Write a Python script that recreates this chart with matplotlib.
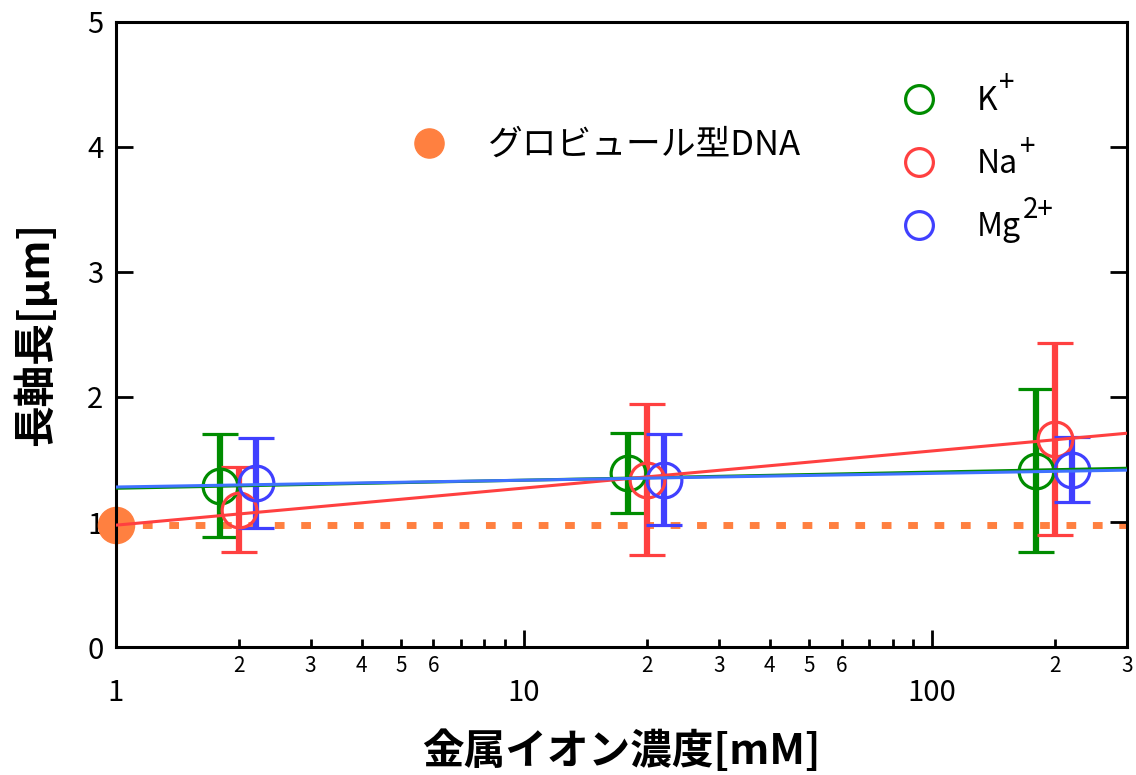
import numpy as np
import matplotlib
matplotlib.use('Agg')
import matplotlib.pyplot as plt
from matplotlib.ticker import FixedLocator, FuncFormatter
from matplotlib.lines import Line2D

plt.rcParams['font.family'] = ['Noto Sans CJK JP', 'DejaVu Sans']

# metal ion concentration [mM] for each ion (slightly offset around 2, 20, 200)
k_conc = [1.8, 18, 180]
na_conc = [2.0, 20, 200]
mg_conc = [2.2, 22, 220]

# long axis length [um] and error
k_len = [1.29, 1.39, 1.41]
k_err = [0.41, 0.32, 0.65]
na_len = [1.10, 1.34, 1.665]
na_err = [0.34, 0.60, 0.77]
mg_len = [1.315, 1.34, 1.42]
mg_err = [0.36, 0.36, 0.26]

# fitted lines (end points at x = 1 and x = 300)
fit_x = [1, 300]
k_fit = [1.27, 1.43]
na_fit = [0.975, 1.71]
mg_fit = [1.28, 1.415]

# globular DNA reference
glob_x = [1]
glob_len = [0.98]
glob_line_x = [1, 300]
glob_line = [0.98, 0.98]

ion_names = ['K', 'Na', 'Mg']
ion_sups = ['+', '+', '2+']

green = '#008c00'
red = '#ff4040'
blue = '#4040ff'
blue_fit = '#3f72ff'
orange = '#ff8040'

fig = plt.figure(figsize=(11.36, 7.75), dpi=100)
ax = fig.add_axes([0.102, 0.165, 0.890, 0.807])

# globular DNA dashed level and point
ax.plot(glob_line_x, glob_line, color=orange, lw=5, linestyle=(0, (1.4, 2.4)), zorder=1)
ax.plot(glob_x, glob_len, 'o', color=orange, markersize=26, clip_on=False, zorder=2)

err_kw = dict(fmt='o', markersize=25, markerfacecolor='none', markeredgewidth=2.3,
              elinewidth=4.5, capsize=13, capthick=4.8, zorder=3)
ax.errorbar(k_conc, k_len, yerr=k_err, color=green, **err_kw)
ax.errorbar(na_conc, na_len, yerr=na_err, color=red, **err_kw)
ax.errorbar(mg_conc, mg_len, yerr=mg_err, color=blue, **err_kw)

# fit lines
ax.plot(fit_x, k_fit, color=green, lw=2.2, zorder=4)
ax.plot(fit_x, na_fit, color=red, lw=2.2, zorder=4)
ax.plot(fit_x, mg_fit, color=blue_fit, lw=2.2, zorder=4)

ax.set_xscale('log')
ax.set_xlim(1, 300)
ax.set_ylim(0, 5)

# ticks
ax.xaxis.set_major_locator(FixedLocator([1, 10, 100]))
ax.xaxis.set_major_formatter(FuncFormatter(lambda v, p: f'{v:g}'))
minor = [m * d for d in [1, 10, 100] for m in range(2, 10) if m * d <= 300]
ax.xaxis.set_minor_locator(FixedLocator(minor))
def minor_fmt(v, p):
    lead = int(round(v / 10 ** np.floor(np.log10(v) + 1e-9)))
    return str(lead) if lead <= 6 else ''
ax.xaxis.set_minor_formatter(FuncFormatter(minor_fmt))
ax.set_yticks([0, 1, 2, 3, 4, 5])

ax.tick_params(axis='x', which='major', direction='in', length=12, width=2, labelsize=21, pad=22, top=False)
ax.tick_params(axis='x', which='minor', direction='in', length=6, width=2, labelsize=15, pad=6, top=False)
ax.tick_params(axis='y', which='major', direction='in', length=12, width=2, labelsize=21, pad=9, right=True)
for s in ax.spines.values():
    s.set_linewidth(2.2)

ax.set_xlabel('金属イオン濃度[mM]', fontsize=30, fontweight='bold', labelpad=16)
ax.set_ylabel('長軸長[μm]', fontsize=30, fontweight='bold', labelpad=22)

# legends
ion_handles = [Line2D([], [], marker='o', linestyle='none', markersize=20, markerfacecolor='none',
                      markeredgewidth=2.3, color=c) for c in [green, red, blue]]
leg1 = ax.legend(ion_handles, ion_names, loc='upper left',
                 bbox_to_anchor=(0.75, 0.945), frameon=False, fontsize=23,
                 handlelength=1.0, handletextpad=1.3, labelspacing=0.98)
ax.add_artist(leg1)
for txt, sup in zip(leg1.get_texts(), ion_sups):
    ax.annotate(sup, xy=(1, 1), xycoords=txt, xytext=(1.5, 1), textcoords='offset points',
                ha='left', va='center', fontsize=20, zorder=6)

glob_handle = Line2D([], [], marker='o', linestyle='none', markersize=21, color=orange)
ax.legend([glob_handle], ['グロビュール型DNA'], loc='upper left', bbox_to_anchor=(0.262, 0.88),
          frameon=False, fontsize=25, handlelength=1.0, handletextpad=1.2)

fig.canvas.draw()
fig.savefig('out.png', dpi=100)
